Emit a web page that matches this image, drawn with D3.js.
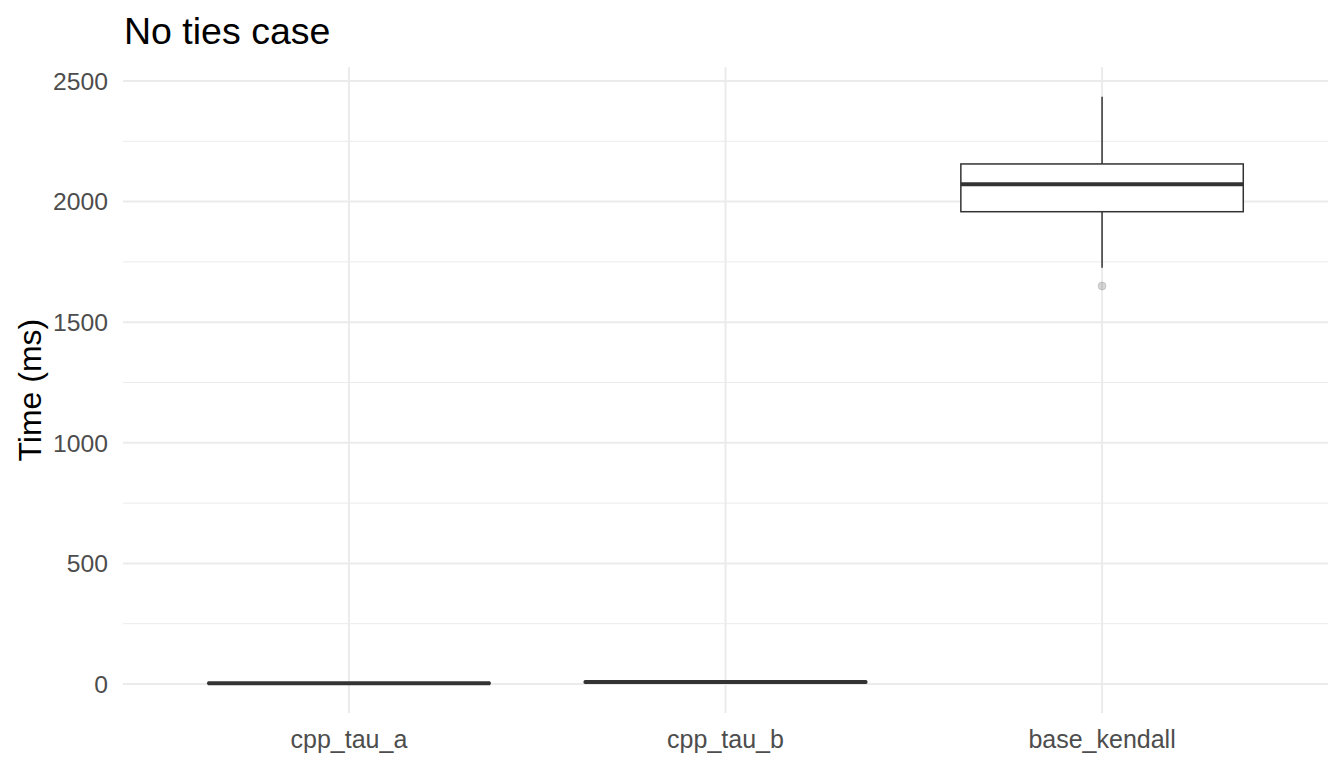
<!DOCTYPE html>
<html>
<head>
<meta charset="utf-8">
<script src="https://cdn.jsdelivr.net/npm/d3@7"></script>
<style>
  body { margin: 0; background: #fff; }
  text { font-family: "Liberation Sans", Arial, sans-serif; }
</style>
</head>
<body>
<svg id="chart"></svg>
<script>
// boxplot stats per method (ms)
const methods = ['cpp_tau_a', 'cpp_tau_b', 'base_kendall'];
const lowerWhisker = [1, 5, 1726];
const q1 = [2, 6, 1958];
const median = [3, 8, 2072];
const q3 = [4, 10, 2156];
const upperWhisker = [6, 12, 2435];
const outliers = [[], [], [1650]];
const yTicks = [0, 500, 1000, 1500, 2000, 2500];
const yMinor = [250, 750, 1250, 1750, 2250];

const w = 1344, h = 768;
const panelLeft = 123, panelRight = 1328, panelTop = 67.3, panelBottom = 713.1;

const svg = d3.select('#chart').attr('width', w).attr('height', h);

const boxes = methods.map((m, i) => ({
  m, lo: lowerWhisker[i], q1: q1[i], med: median[i], q3: q3[i], hi: upperWhisker[i], out: outliers[i]
}));

// y range with ggplot's 5% expansion
const yMin = d3.min(boxes, d => d3.min([d.lo, ...d.out]));
const yMax = d3.max(boxes, d => d3.max([d.hi, ...d.out]));
const pad = (yMax - yMin) * 0.05;
const y = d3.scaleLinear().domain([yMin - pad, yMax + pad]).range([panelBottom, panelTop]);

// discrete x with 0.6 unit expansion
const x = d3.scaleLinear().domain([0.4, methods.length + 0.6]).range([panelLeft, panelRight]);
const boxW = x(1.75) - x(1);

const grid = svg.append('g');
grid.selectAll('.minor').data(yMinor).join('line')
  .attr('x1', panelLeft).attr('x2', panelRight)
  .attr('y1', d => y(d)).attr('y2', d => y(d))
  .attr('stroke', '#ebebeb').attr('stroke-width', 1);
grid.selectAll('.majory').data(yTicks).join('line')
  .attr('x1', panelLeft).attr('x2', panelRight)
  .attr('y1', d => y(d)).attr('y2', d => y(d))
  .attr('stroke', '#ebebeb').attr('stroke-width', 2);
grid.selectAll('.majorx').data(methods).join('line')
  .attr('x1', (d, i) => x(i + 1)).attr('x2', (d, i) => x(i + 1))
  .attr('y1', panelTop).attr('y2', panelBottom)
  .attr('stroke', '#ebebeb').attr('stroke-width', 2);

const g = svg.append('g').selectAll('g').data(boxes).join('g');

g.append('line')
  .attr('x1', (d, i) => x(i + 1)).attr('x2', (d, i) => x(i + 1))
  .attr('y1', d => y(d.q3)).attr('y2', d => y(d.hi))
  .attr('stroke', '#333333').attr('stroke-width', 1.5);
g.append('line')
  .attr('x1', (d, i) => x(i + 1)).attr('x2', (d, i) => x(i + 1))
  .attr('y1', d => y(d.q1)).attr('y2', d => y(d.lo))
  .attr('stroke', '#333333').attr('stroke-width', 1.5);
g.append('rect')
  .attr('x', (d, i) => x(i + 1) - boxW / 2)
  .attr('width', boxW)
  .attr('y', d => y(d.q3))
  .attr('height', d => y(d.q1) - y(d.q3))
  .attr('fill', '#fff').attr('stroke', '#333333').attr('stroke-width', 1.5);
g.append('line')
  .attr('x1', (d, i) => x(i + 1) - boxW / 2).attr('x2', (d, i) => x(i + 1) + boxW / 2)
  .attr('y1', d => y(d.med)).attr('y2', d => y(d.med))
  .attr('stroke', '#333333').attr('stroke-width', 4);
g.each(function(d, i) {
  d3.select(this).selectAll('circle').data(d.out).join('circle')
    .attr('cx', x(i + 1)).attr('cy', v => y(v)).attr('r', 4)
    .attr('fill', '#333333').attr('fill-opacity', 0.2)
    .attr('stroke', '#333333').attr('stroke-opacity', 0.15);
});

// axes labels
svg.append('g').selectAll('text').data(yTicks).join('text')
  .attr('x', 108).attr('y', d => y(d)).attr('dy', '0.36em')
  .attr('text-anchor', 'end').attr('font-size', 24.7).attr('fill', '#4d4d4d')
  .text(d => d);
svg.append('g').selectAll('text').data(methods).join('text')
  .attr('x', (d, i) => x(i + 1)).attr('y', 748)
  .attr('text-anchor', 'middle').attr('font-size', 25).attr('fill', '#4d4d4d')
  .text(d => d);

svg.append('text')
  .attr('transform', `translate(41,${(panelTop + panelBottom) / 2}) rotate(-90)`)
  .attr('text-anchor', 'middle').attr('font-size', 32).attr('fill', '#000')
  .text('Time (ms)');

svg.append('text')
  .attr('x', 124).attr('y', 43.5)
  .attr('font-size', 37.5).attr('fill', '#000')
  .text('No ties case');
</script>
</body>
</html>
